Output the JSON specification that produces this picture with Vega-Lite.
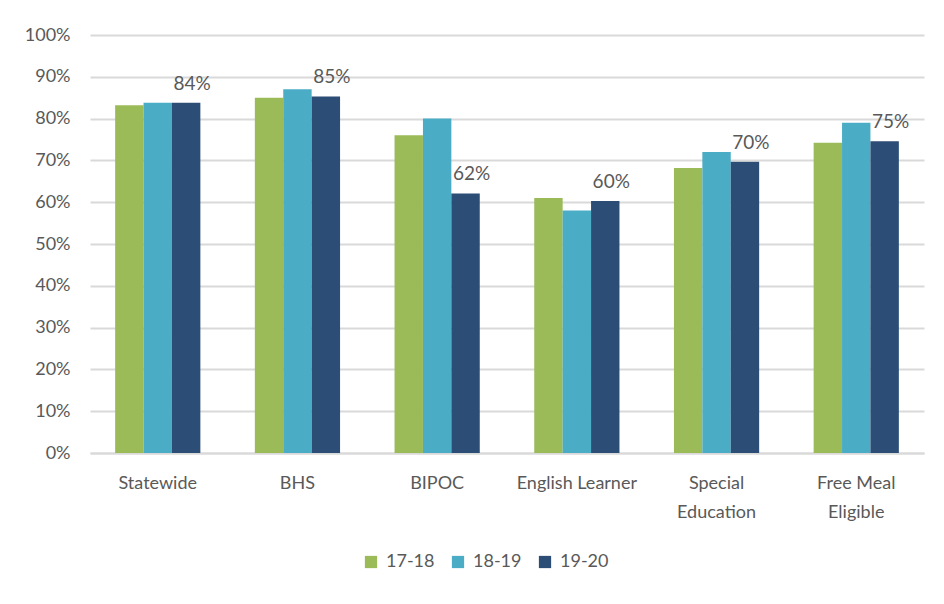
{
  "$schema": "https://vega.github.io/schema/vega-lite/v6.json",
  "width": 834,
  "height": 418,
  "autosize": {"type": "none"},
  "padding": {"left": 90, "top": 35, "right": 20, "bottom": 151},
  "background": "white",
  "config": {
    "view": {"stroke": null},
    "font": "Lato",
    "axis": {"labelFont": "Lato", "labelColor": "#595959", "labelFontSize": 18},
    "legend": {"labelFont": "Lato", "labelColor": "#595959", "labelFontSize": 18}
  },
  "data": {
    "values": [
      {"group": "Statewide", "year": "17-18", "value": 0.832},
      {"group": "Statewide", "year": "18-19", "value": 0.838},
      {"group": "Statewide", "year": "19-20", "value": 0.838},
      {"group": "BHS", "year": "17-18", "value": 0.850},
      {"group": "BHS", "year": "18-19", "value": 0.870},
      {"group": "BHS", "year": "19-20", "value": 0.853},
      {"group": "BIPOC", "year": "17-18", "value": 0.760},
      {"group": "BIPOC", "year": "18-19", "value": 0.800},
      {"group": "BIPOC", "year": "19-20", "value": 0.621},
      {"group": "English Learner", "year": "17-18", "value": 0.610},
      {"group": "English Learner", "year": "18-19", "value": 0.580},
      {"group": "English Learner", "year": "19-20", "value": 0.603},
      {"group": "Special Education", "year": "17-18", "value": 0.682},
      {"group": "Special Education", "year": "18-19", "value": 0.720},
      {"group": "Special Education", "year": "19-20", "value": 0.697},
      {"group": "Free Meal Eligible", "year": "17-18", "value": 0.742},
      {"group": "Free Meal Eligible", "year": "18-19", "value": 0.790},
      {"group": "Free Meal Eligible", "year": "19-20", "value": 0.746}
    ]
  },
  "encoding": {
    "x": {
      "field": "group",
      "type": "nominal",
      "sort": null,
      "title": null,
      "scale": {"paddingInner": 0.39, "paddingOuter": 0.18},
      "axis": {
        "labelAngle": 0,
        "ticks": false,
        "domain": true,
        "domainColor": "#D9D9D9",
        "domainWidth": 2,
        "labelPadding": 21,
        "labelLineHeight": 29,
        "labelBaseline": "top",
        "labelExpr": "datum.label == 'Special Education' ? ['Special', 'Education'] : datum.label == 'Free Meal Eligible' ? ['Free Meal', 'Eligible'] : datum.label"
      }
    },
    "xOffset": {"field": "year", "type": "nominal", "sort": ["17-18", "18-19", "19-20"]}
  },
  "layer": [
    {
      "mark": {"type": "bar"},
      "encoding": {
        "y": {
          "field": "value",
          "type": "quantitative",
          "title": null,
          "scale": {"domain": [0, 1], "nice": false},
          "axis": {
            "values": [0, 0.1, 0.2, 0.3, 0.4, 0.5, 0.6, 0.7, 0.8, 0.9, 1],
            "format": ".0%",
            "ticks": false,
            "domain": false,
            "grid": true,
            "gridColor": "#D9D9D9",
            "gridWidth": 2,
            "labelPadding": 20
          }
        },
        "color": {
          "field": "year",
          "type": "nominal",
          "scale": {"domain": ["17-18", "18-19", "19-20"], "range": ["#9BBB59", "#4BACC6", "#2C4D75"]},
          "legend": {
            "title": null,
            "orient": "none",
            "direction": "horizontal",
            "legendX": 272,
            "legendY": 518,
            "symbolType": "square",
            "symbolSize": 150,
            "symbolStrokeWidth": 0,
            "columnPadding": 14,
            "labelOffset": 6
          }
        }
      }
    },
    {
      "transform": [{"filter": "datum.year == '19-20'"}],
      "mark": {"type": "text", "baseline": "bottom", "dy": -9, "dx": 6, "fontSize": 19, "color": "#595959", "font": "Lato"},
      "encoding": {
        "y": {"field": "value", "type": "quantitative"},
        "text": {"field": "value", "type": "quantitative", "format": ".0%"},
        "detail": {"field": "year"}
      }
    }
  ]
}
